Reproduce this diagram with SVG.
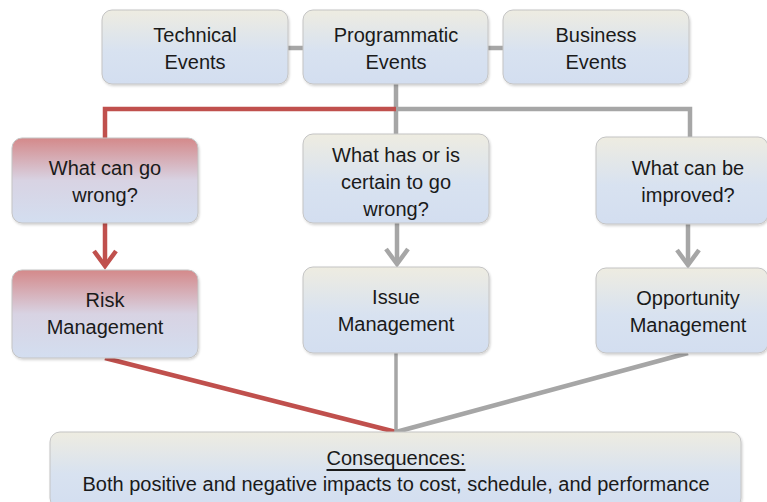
<svg xmlns="http://www.w3.org/2000/svg" width="767" height="502" viewBox="0 0 767 502">
<defs>
<linearGradient id="gb" x1="0" y1="0" x2="0" y2="1">
<stop offset="0" stop-color="#eeece1"/><stop offset="0.55" stop-color="#d8e2f0"/><stop offset="1" stop-color="#d3def0"/>
</linearGradient>
<linearGradient id="gr" x1="0" y1="0" x2="0" y2="1">
<stop offset="0" stop-color="#d4898a"/><stop offset="0.5" stop-color="#d8d3e3"/><stop offset="1" stop-color="#d3def0"/>
</linearGradient>
<filter id="sh" x="-5%" y="-5%" width="110%" height="115%"><feDropShadow dx="1" dy="1.5" stdDeviation="1" flood-color="#000" flood-opacity="0.18"/></filter>
</defs>
<style>
.box{fill:url(#gb);stroke:#c4c4c4;stroke-width:1;filter:url(#sh)}
.rbox{fill:url(#gr);stroke:#c4c4c4;stroke-width:1;filter:url(#sh)}
text{font-family:"Liberation Sans",Arial,sans-serif;font-size:20px;fill:#1a1a1a;text-anchor:middle;dominant-baseline:central}
.g{stroke:#a6a6a6;stroke-width:4.5;fill:none}
.r{stroke:#c0504d;stroke-width:4.5;fill:none}
</style>
<g id="connectors">
<line class="g" x1="288" y1="48" x2="303" y2="48"/>
<line class="g" x1="488" y1="48" x2="503" y2="48"/>
<polyline class="g" points="396,84 396,134"/>
<polyline class="g" points="396,109 690,109 690,137"/>
<polyline class="r" points="396,109 105,109 105,138"/>
<line class="r" x1="105" y1="223" x2="105" y2="266"/>
<polyline class="r" points="94,251 105,266 116,251"/>
<line class="g" x1="397" y1="223" x2="397" y2="264"/>
<polyline class="g" points="386,249 397,264 408,249"/>
<line class="g" x1="688" y1="224" x2="688" y2="265"/>
<polyline class="g" points="677,250 688,265 699,250"/>
<line class="r" x1="105" y1="358" x2="396" y2="432"/>
<line class="g" x1="396" y1="353" x2="396" y2="432" style="stroke-width:3.5"/>
<line class="g" x1="688" y1="353" x2="396" y2="432"/>
</g>
<g id="technical"><rect class="box" x="102" y="10" width="186" height="74" rx="10"/><text x="195" y="35">Technical</text><text x="195" y="62">Events</text></g>
<g id="programmatic"><rect class="box" x="303" y="10" width="185" height="74" rx="10"/><text x="396" y="35">Programmatic</text><text x="396" y="62">Events</text></g>
<g id="business"><rect class="box" x="503" y="10" width="186" height="74" rx="10"/><text x="596" y="35">Business</text><text x="596" y="62">Events</text></g>
<g id="q-risk"><rect class="rbox" x="12" y="138" width="186" height="85" rx="10"/><text x="105" y="168">What can go</text><text x="105" y="195">wrong?</text></g>
<g id="risk"><rect class="rbox" x="12" y="270" width="186" height="88" rx="10"/><text x="105" y="300">Risk</text><text x="105" y="327">Management</text></g>
<g id="q-issue"><rect class="box" x="303" y="134" width="186" height="89" rx="10"/><text x="396" y="155">What has or is</text><text x="396" y="182">certain to go</text><text x="396" y="209">wrong?</text></g>
<g id="issue"><rect class="box" x="303" y="267" width="186" height="86" rx="10"/><text x="396" y="297">Issue</text><text x="396" y="324">Management</text></g>
<g id="q-opp"><rect class="box" x="596" y="137" width="172" height="87" rx="10"/><text x="688" y="168">What can be</text><text x="688" y="195">improved?</text></g>
<g id="opportunity"><rect class="box" x="596" y="268" width="172" height="85" rx="10"/><text x="688" y="298">Opportunity</text><text x="688" y="325">Management</text></g>
<g id="consequences"><rect class="box" x="50" y="432" width="691" height="76" rx="10"/><text x="396" y="458" text-decoration="underline">Consequences:</text><text x="396" y="484">Both positive and negative impacts to cost, schedule, and performance</text></g>
</svg>
